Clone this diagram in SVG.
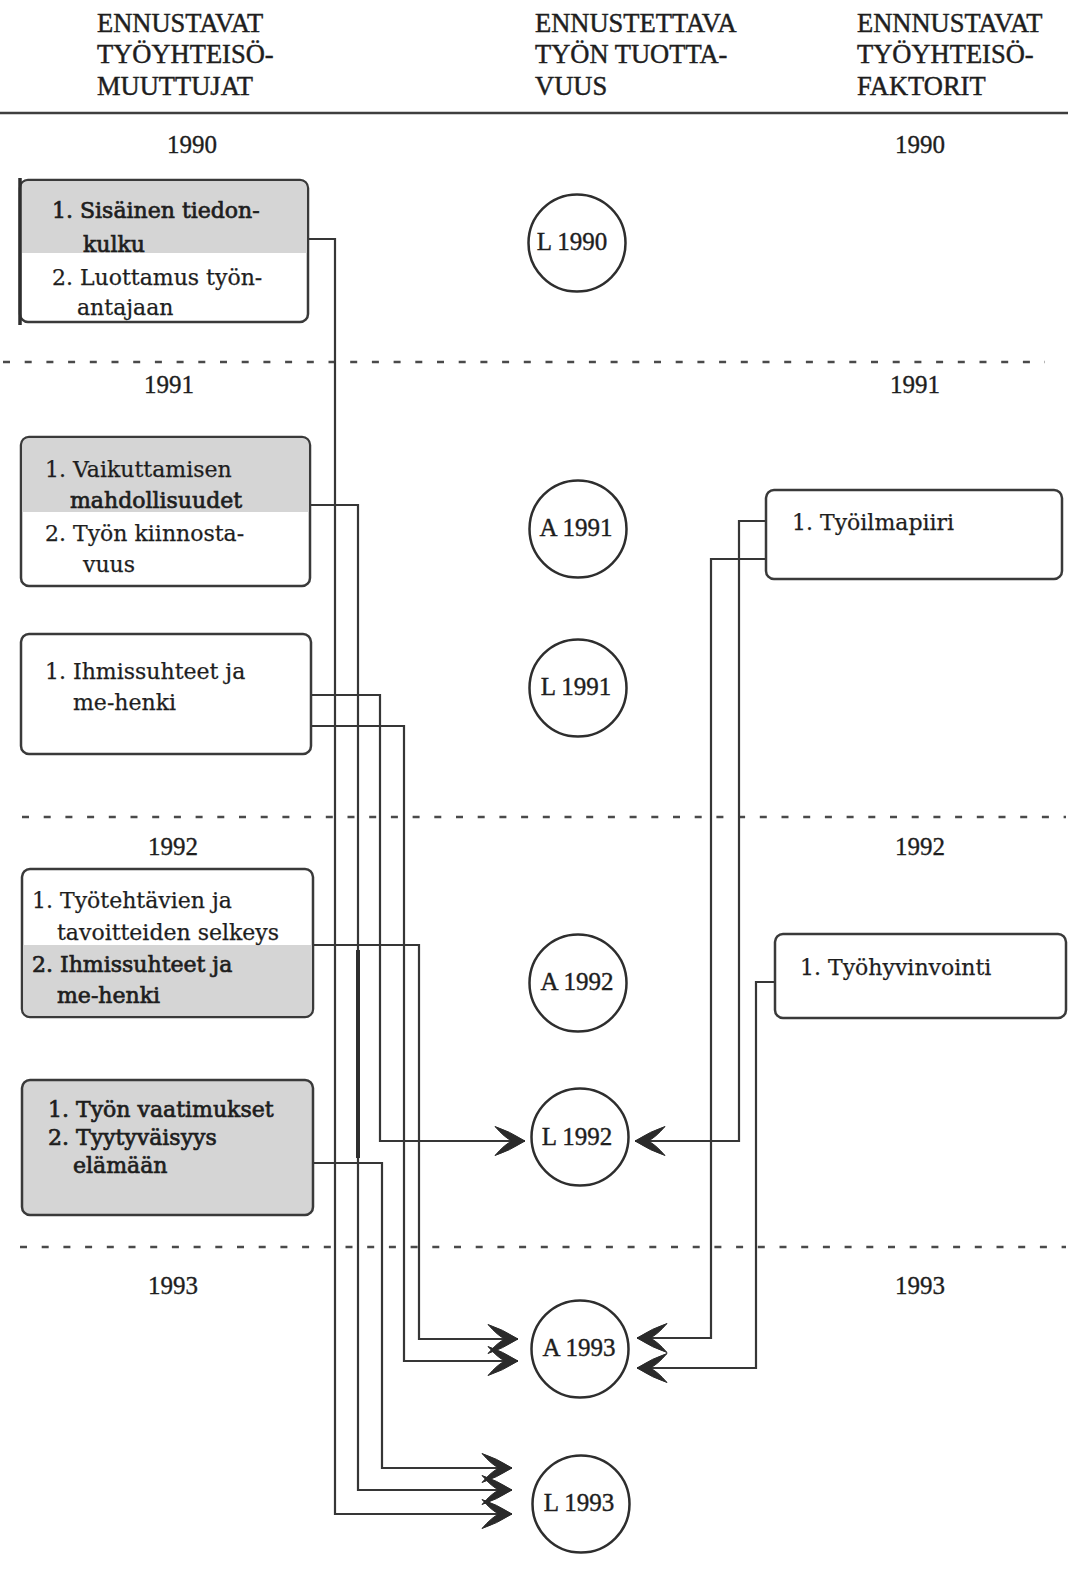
<svg xmlns="http://www.w3.org/2000/svg" width="1068" height="1575" viewBox="0 0 1068 1575">
  <style>
    .head { font-family: "Liberation Serif", "Times New Roman", serif; font-size: 26.5px; fill: #1e1e1e; stroke: #1e1e1e; stroke-width: 0.45px; }
    .year { font-family: "Liberation Serif", "Times New Roman", serif; font-size: 25px; fill: #1e1e1e; text-anchor: middle; stroke: #1e1e1e; stroke-width: 0.35px; }
    .ctext { font-family: "Liberation Serif", "Times New Roman", serif; font-size: 25px; fill: #1e1e1e; text-anchor: middle; stroke: #1e1e1e; stroke-width: 0.4px; }
    .btext { font-family: "DejaVu Serif", "Liberation Serif", serif; font-size: 22px; fill: #1e1e1e; stroke: #1e1e1e; stroke-width: 0.25px; }
    .heavy { stroke-width: 0.7px; }
    .box { fill: #ffffff; stroke: #3a3a3a; stroke-width: 2.5; }
    .shade { fill: #d5d5d5; }
    .circ { fill: #ffffff; stroke: #2e2e2e; stroke-width: 2.5; }
    .sep { stroke: #4a4a4a; stroke-width: 2.5; stroke-dasharray: 7 14.7; fill: none; }
    .wire { fill: none; stroke: #363636; stroke-width: 2.2; marker-end: url(#barb); }
  </style>
  <defs>
    <!-- swept barb arrowhead with a notched back -->
    <marker id="barb" viewBox="0 0 34 32" markerUnits="userSpaceOnUse" markerWidth="34" markerHeight="32" refX="32" refY="16" orient="auto">
      <path d="M32,16 Q16,6 2,1.5 Q12,13 19,16 Q12,19 2,30.5 Q16,26 32,16 Z" fill="#2a2a2a" stroke="#2a2a2a" stroke-width="1"/>
    </marker>
  </defs>

  <!-- column headings -->
  <g id="heading-left">
    <text class="head" x="97" y="32">ENNUSTAVAT</text>
    <text class="head" x="97" y="63">TYÖYHTEISÖ-</text>
    <text class="head" x="97" y="95">MUUTTUJAT</text>
  </g>
  <g id="heading-middle">
    <text class="head" x="535" y="32">ENNUSTETTAVA</text>
    <text class="head" x="535" y="63">TYÖN TUOTTA-</text>
    <text class="head" x="535" y="95">VUUS</text>
  </g>
  <g id="heading-right">
    <text class="head" x="857" y="32">ENNNUSTAVAT</text>
    <text class="head" x="857" y="63">TYÖYHTEISÖ-</text>
    <text class="head" x="857" y="95">FAKTORIT</text>
  </g>
  <line x1="0" y1="113" x2="1068" y2="113" stroke="#3e3e3e" stroke-width="2.6"/>

  <!-- year bands -->
  <g id="years">
    <text class="year" x="192" y="153">1990</text>
    <text class="year" x="920" y="153">1990</text>
    <line class="sep" x1="3" y1="362" x2="1045" y2="362"/>
    <text class="year" x="169" y="393">1991</text>
    <text class="year" x="915" y="393">1991</text>
    <line class="sep" x1="22" y1="817" x2="1066" y2="817"/>
    <text class="year" x="173" y="855">1992</text>
    <text class="year" x="920" y="855">1992</text>
    <line class="sep" x1="20" y1="1247" x2="1066" y2="1247"/>
    <text class="year" x="173" y="1294">1993</text>
    <text class="year" x="920" y="1294">1993</text>
  </g>

  <!-- connectors -->
  <g id="connectors">
    <path class="wire" d="M308,239 H335 V1514 H512"/>
    <path class="wire" d="M310,505 H358 V1490 H512"/>
    <path class="wire" d="M311,695 H380 V1141 H525"/>
    <path class="wire" d="M311,726 H404 V1361 H518"/>
    <path class="wire" d="M313,945 H419 V1339 H518"/>
    <path class="wire" d="M313,1163 H382 V1468 H512"/>
    <path class="wire" d="M766,521 H739 V1141 H635"/>
    <path class="wire" d="M766,559 H711 V1338 H637"/>
    <path class="wire" d="M775,982 H756 V1368 H637"/>
    <line x1="358" y1="950" x2="358" y2="1158" stroke="#2e2e2e" stroke-width="4"/>
  </g>

  <!-- left column: predictor variables -->
  <g id="var-1990">
    <rect class="box" x="20" y="180" width="288" height="142" rx="8"/>
    <path class="shade" d="M21.3,253 V188 Q21.3,181.3 28,181.3 H300 Q306.7,181.3 306.7,188 V253 Z"/>
    <line x1="20" y1="178" x2="20" y2="325" stroke="#2e2e2e" stroke-width="3.5"/>
    <text class="btext heavy" x="52" y="218">1. Sisäinen tiedon-</text>
    <text class="btext heavy" x="83" y="252">kulku</text>
    <text class="btext" x="52" y="285">2. Luottamus työn-</text>
    <text class="btext" x="77" y="315">antajaan</text>
  </g>
  <g id="var-1991a">
    <rect class="box" x="21" y="437" width="289" height="149" rx="8"/>
    <path class="shade" d="M22.3,512 V445 Q22.3,438.3 29,438.3 H302 Q308.7,438.3 308.7,445 V512 Z"/>
    <text class="btext" x="45" y="477">1. Vaikuttamisen</text>
    <text class="btext heavy" x="70" y="508">mahdollisuudet</text>
    <text class="btext" x="45" y="541">2. Työn kiinnosta-</text>
    <text class="btext" x="83" y="572">vuus</text>
  </g>
  <g id="var-1991b">
    <rect class="box" x="21" y="634" width="290" height="120" rx="8"/>
    <text class="btext" x="45" y="679">1. Ihmissuhteet ja</text>
    <text class="btext" x="73" y="710">me-henki</text>
  </g>
  <g id="var-1992a">
    <rect class="box" x="22" y="869" width="291" height="148" rx="8"/>
    <path class="shade" d="M23.3,945 H311.7 V1009 Q311.7,1015.7 305,1015.7 H30 Q23.3,1015.7 23.3,1009 Z"/>
    <text class="btext" x="32" y="908">1. Työtehtävien ja</text>
    <text class="btext" x="57" y="940">tavoitteiden selkeys</text>
    <text class="btext heavy" x="32" y="972">2. Ihmissuhteet ja</text>
    <text class="btext heavy" x="57" y="1003">me-henki</text>
  </g>
  <g id="var-1992b">
    <rect class="box" x="22" y="1080" width="291" height="135" rx="8" style="fill:#d5d5d5"/>
    <text class="btext heavy" x="48" y="1117">1. Työn vaatimukset</text>
    <text class="btext heavy" x="48" y="1145">2. Tyytyväisyys</text>
    <text class="btext heavy" x="73" y="1173">elämään</text>
  </g>

  <!-- middle column: predicted productivity -->
  <g id="L1990"><circle class="circ" cx="577" cy="243" r="48.5"/><text class="ctext" x="572" y="250">L 1990</text></g>
  <g id="A1991"><circle class="circ" cx="578" cy="529" r="48.5"/><text class="ctext" x="576" y="536">A 1991</text></g>
  <g id="L1991"><circle class="circ" cx="578" cy="688" r="48.5"/><text class="ctext" x="576" y="695">L 1991</text></g>
  <g id="A1992"><circle class="circ" cx="578" cy="983" r="48.5"/><text class="ctext" x="577" y="990">A 1992</text></g>
  <g id="L1992"><circle class="circ" cx="580" cy="1137" r="48.5"/><text class="ctext" x="577" y="1145">L 1992</text></g>
  <g id="A1993"><circle class="circ" cx="580" cy="1349" r="48.5"/><text class="ctext" x="579" y="1356">A 1993</text></g>
  <g id="L1993"><circle class="circ" cx="581" cy="1504" r="48.5"/><text class="ctext" x="579" y="1511">L 1993</text></g>

  <!-- right column: predictor factors -->
  <g id="fac-1991">
    <rect class="box" x="766" y="490" width="296" height="89" rx="8"/>
    <text class="btext" x="792" y="530">1. Työilmapiiri</text>
  </g>
  <g id="fac-1992">
    <rect class="box" x="775" y="934" width="291" height="84" rx="8"/>
    <text class="btext" x="800" y="975">1. Työhyvinvointi</text>
  </g>
</svg>
